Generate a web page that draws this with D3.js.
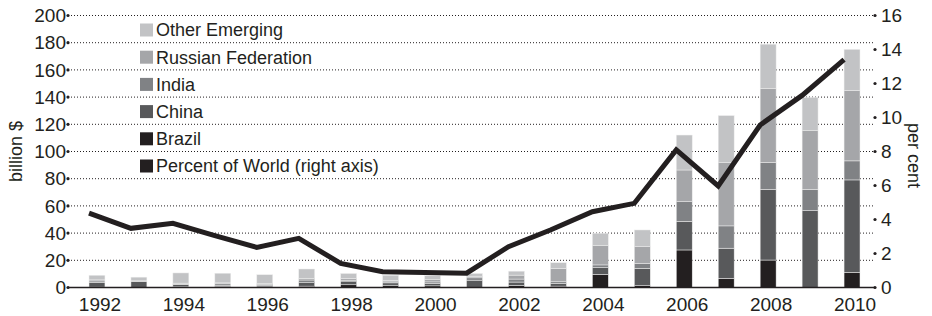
<!DOCTYPE html>
<html><head><meta charset="utf-8">
<script src="https://cdn.jsdelivr.net/npm/d3@7"></script>
<style>
html,body{margin:0;padding:0;background:#fff;}
text{font-family:"Liberation Sans",Arial,Helvetica,sans-serif;fill:#231f20;}
</style></head>
<body><svg id="chart" width="932" height="316"></svg>
<script>
const years = [1992,1993,1994,1995,1996,1997,1998,1999,2000,2001,2002,2003,2004,2005,2006,2007,2008,2009,2010];
const brazil  = [0.3,0.0,0.5,0.7,0.5,1.0,2.0,1.7,1.2,0.0,1.5,1.0,9.7,1.3,27.6,6.8,20.2,0.0,11.2];
const china   = [3.5,4.6,1.7,1.0,1.2,2.5,2.7,1.7,1.7,5.4,2.5,2.0,4.9,12.8,21.1,22.1,52.0,56.5,67.9];
const india   = [1.0,0.1,0.3,1.0,0.4,2.0,0.7,0.7,1.2,1.7,2.2,1.2,2.0,3.7,14.4,16.4,19.9,15.7,14.0];
const russia  = [0.8,0.2,0.7,0.7,0.7,1.2,1.2,1.2,1.7,1.2,2.9,9.8,14.2,12.2,23.3,46.5,54.4,43.1,51.7];
const other   = [3.4,2.7,7.5,7.1,6.6,6.9,3.7,3.7,2.9,2.0,2.9,4.2,9.1,12.3,25.7,34.6,32.4,24.5,30.3];
const percentWorld = [4.38,3.48,3.78,3.05,2.36,2.89,1.42,0.93,0.88,0.84,2.40,3.38,4.46,4.95,8.09,5.97,9.56,11.3,13.4];
const leftTicks = [0,20,40,60,80,100,120,140,160,180,200];
const rightTicks = [0,2,4,6,8,10,12,14,16];
const yearLabels = [1992,1994,1996,1998,2000,2002,2004,2006,2008,2010];
const seriesNames = ["Brazil","China","India","Russian Federation","Other Emerging"];
const seriesColors = ["#231f20","#58595b","#808285","#a5a6a9","#c2c3c5"];

const svg = d3.select("#chart");
const L = 68, R = 875, T = 15.5, B = 287.5;
const x = d3.scaleBand().domain(years).range([76, 873]).paddingInner(0.62).paddingOuter(0.31);
const y = d3.scaleLinear().domain([0,200]).range([B, T]);
const y2 = d3.scaleLinear().domain([0,16]).range([B, T]);

// gridlines
svg.append("g").selectAll("line").data(leftTicks.filter(d=>d>0)).join("line")
  .attr("x1", L).attr("x2", R).attr("y1", d=>y(d)).attr("y2", d=>y(d))
  .attr("stroke","#231f20").attr("stroke-width",1).attr("stroke-dasharray","1,2");

// stacked bars
const rows = years.map((yr,i)=>({year:yr, Brazil:brazil[i], China:china[i], India:india[i], "Russian Federation":russia[i], "Other Emerging":other[i]}));
const stack = d3.stack().keys(seriesNames)(rows);
svg.append("g").selectAll("g").data(stack).join("g")
  .attr("fill",(d,i)=>seriesColors[i])
  .selectAll("rect").data(d=>d).join("rect")
  .attr("x", d=>x(d.data.year)).attr("width", x.bandwidth())
  .attr("y", d=>y(d[1])).attr("height", d=>Math.max(0, y(d[0])-y(d[1])))
  .attr("stroke","#eeeeee").attr("stroke-width",0.5);

// baseline
svg.append("line").attr("x1",L).attr("x2",R).attr("y1",y(0)).attr("y2",y(0))
  .attr("stroke","#231f20").attr("stroke-width",1.6);

// line
const line = d3.line().x((d,i)=>x(years[i])).y(d=>y2(d));
svg.append("path").datum(percentWorld).attr("d", line)
  .attr("fill","none").attr("stroke","#231f20").attr("stroke-width",5).attr("stroke-linejoin","miter");

// left axis
const la = svg.append("g");
la.selectAll("circle").data(leftTicks).join("circle").attr("cx",L).attr("cy",d=>y(d)).attr("r",1.6).attr("fill","#231f20");
la.selectAll("text").data(leftTicks).join("text").attr("x",L-2).attr("y",d=>y(d)).attr("dy","0.35em")
  .attr("text-anchor","end").attr("font-size",19).text(d=>d);
// right axis
const ra = svg.append("g");
ra.selectAll("circle").data(rightTicks).join("circle").attr("cx",R).attr("cy",d=>y2(d)).attr("r",1.6).attr("fill","#231f20");
ra.selectAll("text").data(rightTicks).join("text").attr("x",R+6).attr("y",d=>y2(d)).attr("dy","0.35em")
  .attr("text-anchor","start").attr("font-size",19).text(d=>d);
// x labels
svg.append("g").selectAll("text").data(yearLabels).join("text")
  .attr("x", d=>x(d)+x.bandwidth()/2+3).attr("y",311).attr("text-anchor","middle").attr("font-size",19).text(d=>d);

// axis titles
svg.append("text").attr("transform",`translate(22,${(T+B)/2}) rotate(-90)`).attr("text-anchor","middle")
  .attr("font-size",18).text("billion $");
svg.append("text").attr("transform",`translate(908,${(T+B)/2+4}) rotate(90)`).attr("text-anchor","middle")
  .attr("font-size",18).text("per cent");

// legend
const legendItems = [
  {name:"Other Emerging", color:seriesColors[4]},
  {name:"Russian Federation", color:seriesColors[3]},
  {name:"India", color:seriesColors[2]},
  {name:"China", color:seriesColors[1]},
  {name:"Brazil", color:seriesColors[0]},
  {name:"Percent of World (right axis)", color:"#231f20"}
];
const lg = svg.append("g").selectAll("g").data(legendItems).join("g")
  .attr("transform",(d,i)=>`translate(140,${30+i*27.2})`);
lg.append("rect").attr("x",0).attr("y",-6.5).attr("width",13).attr("height",13).attr("fill",d=>d.color);
lg.append("text").attr("x",16).attr("y",0).attr("dy","0.36em").attr("font-size",18).text(d=>d.name);
</script></body></html>
